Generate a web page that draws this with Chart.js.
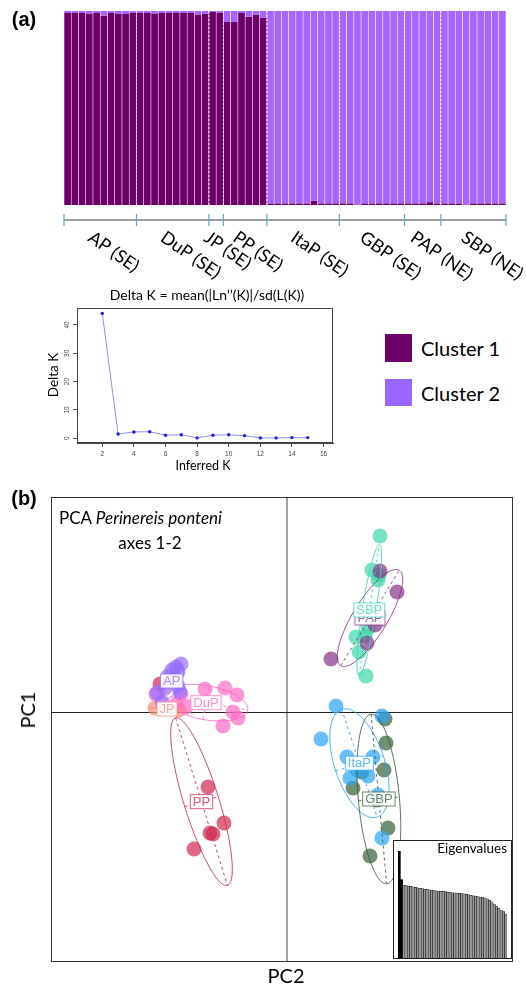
<!DOCTYPE html>
<html><head><meta charset="utf-8">
<script src="https://cdn.jsdelivr.net/npm/chart.js@4.4.1/dist/chart.umd.min.js"></script>
<style>
html,body{margin:0;padding:0;background:#fff;}
body{width:526px;height:987px;position:relative;overflow:hidden;font-family:Lato,sans-serif;}
canvas{position:absolute;}
.t{position:absolute;white-space:nowrap;color:#000;line-height:1;}
.sq{position:absolute;}
</style></head><body>
<canvas id="structure" width="526" height="285" style="left:0;top:0"></canvas>
<canvas id="deltak" width="345" height="190" style="left:0;top:283px"></canvas>
<canvas id="pca" width="526" height="507" style="left:0;top:480px"></canvas>
<canvas id="eig" width="119" height="119" style="left:393px;top:840px"></canvas>

<div class="t" style="left:24px;top:19px;font:bold 20px 'Liberation Sans';transform:translate(-50%,-50%)">(a)</div>
<div class="t" style="left:24px;top:498px;font:bold 20px 'Liberation Sans';transform:translate(-50%,-50%)">(b)</div>

<div class="sq" style="left:385px;top:334px;width:27px;height:28px;background:#6b0066"></div>
<div class="t" style="left:421px;top:348px;font-size:20px;transform:translateY(-50%)">Cluster 1</div>
<div class="sq" style="left:385px;top:379px;width:27px;height:27px;background:#9966ff"></div>
<div class="t" style="left:421px;top:393px;font-size:20px;transform:translateY(-50%)">Cluster 2</div>

<div class="t" style="left:207px;top:295px;font-size:14px;transform:translate(-50%,-50%)">Delta K = mean(|Ln’’(K)|/sd(L(K))</div>
<div class="t" style="left:54px;top:375px;font-size:13.5px;transform:translate(-50%,-50%) rotate(-90deg)">Delta K</div>
<div class="t" style="left:203px;top:466px;font-size:12.5px;transform:translate(-50%,-50%)">Inferred K</div>

<div class="t" style="left:59px;top:517px;font-size:17px;transform:translateY(-50%)">PCA <i>Perinereis ponteni</i></div>
<div class="t" style="left:150px;top:542px;font-size:17px;transform:translate(-50%,-50%)">axes 1-2</div>
<div class="t" style="left:27px;top:710px;font-size:20px;transform:translate(-50%,-50%) rotate(-90deg)">PC1</div>
<div class="t" style="left:286px;top:975px;font-size:20px;transform:translate(-50%,-50%)">PC2</div>

<script>
// ---------- (a) STRUCTURE data ----------
const populations = ['AP (SE)','DuP (SE)','JP (SE)','PP (SE)','ItaP (SE)','GBP (SE)','PAP (NE)','SBP (NE)'];
const popSizes = [10,10,2,6,10,9,5,9];
const cluster1 = [
  0.99,0.99,0.99,0.985,0.99,0.975,0.99,0.985,0.985,0.99,
  0.99,0.99,0.985,0.99,0.99,0.99,0.99,0.99,0.98,0.985,
  0.995,0.99,
  0.945,0.945,0.99,0.97,0.98,0.965,
  0.008,0.008,0.008,0.008,0.008,0.008,0.022,0.008,0.008,0.008,
  0.008,0.008,0.002,0.008,0.008,0.008,0.008,0.008,0.008,
  0.008,0.008,0.008,0.014,0.008,
  0.008,0.008,0.008,0.002,0.008,0.008,0.008,0.008,0.008
];
const cluster2 = [
  0.01,0.01,0.01,0.015,0.01,0.025,0.01,0.015,0.015,0.01,
  0.01,0.01,0.015,0.01,0.01,0.01,0.01,0.01,0.02,0.015,
  0.005,0.01,
  0.055,0.055,0.01,0.03,0.02,0.035,
  0.992,0.992,0.992,0.992,0.992,0.992,0.978,0.992,0.992,0.992,
  0.992,0.992,0.998,0.992,0.992,0.992,0.992,0.992,0.992,
  0.992,0.992,0.992,0.986,0.992,
  0.992,0.992,0.992,0.998,0.992,0.992,0.992,0.992,0.992
];

// ---------- Delta K data ----------
const deltaKx = [2,3,4,5,6,7,8,9,10,11,12,13,14,15];
const deltaK = [44.1,1.5,2.2,2.3,1.05,1.2,0.1,1.05,1.2,0.9,0.1,0.1,0.2,0.2];
const deltaKxTicks = [2,4,6,8,10,12,14,16];
const deltaKyTicks = [0,10,20,30,40];

// ---------- (b) PCA data (PC2 = horizontal, PC1 = vertical) ----------
const apPC2   = [-10.6,-11.1,-11.5,-11.9,-10.9,-13.0,-12.5,-10.7,-12.2,-10.9];
const apPC1   = [4.8,4.5,4.2,3.6,4.0,1.9,1.0,2.0,2.4,2.6];
const dupPC2  = [-8.2,-6.2,-5.0,-10.1,-10.6,-5.4,-4.9,-6.4,-11.1,-13.1];
const dupPC1  = [2.3,2.4,1.7,0.5,1.8,0.0,-0.6,-1.4,0.8,1.8];
const jpPC2   = [-13.2,-10.8];
const jpPC1   = [0.4,0.2];
const ppPC2   = [-12.7,-7.9,-6.3,-7.7,-7.4,-9.3];
const ppPC1   = [2.8,-7.5,-11.1,-12.1,-12.2,-13.7];
const itapPC2 = [4.9,3.4,9.5,6.0,8.6,7.0,8.1,9.1,9.5,6.3];
const itapPC1 = [0.6,-2.7,-0.4,-4.5,-4.5,-5.8,-6.4,-8.3,-12.6,-6.6];
const gbpPC2  = [9.8,9.9,9.7,6.6,7.5,10.1,8.3,9.0,11.8];
const gbpPC1  = [-0.7,-3.1,-5.8,-7.6,-6.0,-11.6,-14.4,-8.8,-20.3];
const papPC2  = [9.3,11.0,4.4,8.8,8.0];
const papPC1  = [14.1,12.0,5.3,8.7,6.9];
const sbpPC2  = [9.3,8.5,9.2,9.1,6.9,7.8,8.1,7.9,7.2];
const sbpPC1  = [17.6,14.2,13.7,13.2,7.5,7.6,8.4,3.6,6.0];
const pcaNames = ['AP','DuP','JP','PP','ItaP','GBP','PAP','SBP'];
const eigenvalues = [100,73.2,68.0,67.6,67.2,66.9,66.4,66.0,65.6,65.2,64.8,64.5,64.1,63.8,63.4,63.1,
  62.8,62.6,62.4,62.2,62.0,61.6,61.3,61.0,60.8,60.7,60.5,60.3,59.9,59.5,59.0,58.6,58.2,57.8,57.5,
  57.0,56.4,55.9,55.2,54.0,52.4,50.5,48.0,46.5,44.8,43.5,40.5];
const eigAxesShown = 2;

// ---------- styles ----------
const pcaColors = [[150,110,255],[255,105,200],[255,140,125],[210,40,80],[40,165,250],[55,95,55],[135,50,135],[60,215,170]];
const rgba = (c,a)=>`rgba(${c[0]},${c[1]},${c[2]},${a})`;

// ---------- STRUCTURE chart ----------
const structurePlugin = {
  id:'structurePlugin',
  afterDatasetsDraw(chart){
    const {ctx, chartArea:a, scales:{x}} = chart;
    const w = x.getPixelForValue(1) - x.getPixelForValue(0);
    const bnd = [x.getPixelForValue(0) - w/2];
    let k = 0;
    popSizes.forEach(s => { k += s; bnd.push(x.getPixelForValue(k-1) + w/2); });
    ctx.save();
    ctx.strokeStyle = 'rgba(255,255,255,0.95)'; ctx.lineWidth = 1; ctx.setLineDash([2,2]);
    for (let i=1;i<bnd.length-1;i++){ ctx.beginPath(); ctx.moveTo(bnd[i], a.top); ctx.lineTo(bnd[i], a.bottom); ctx.stroke(); }
    ctx.setLineDash([]);
    const ay = a.bottom + 15;
    ctx.strokeStyle = '#808080'; ctx.lineWidth = 1.5;
    ctx.beginPath(); ctx.moveTo(bnd[0], ay); ctx.lineTo(bnd[bnd.length-1], ay); ctx.stroke();
    ctx.strokeStyle = '#5aaed0'; ctx.lineWidth = 1.2;
    bnd.forEach(b => { ctx.beginPath(); ctx.moveTo(b, ay-6); ctx.lineTo(b, ay+6); ctx.stroke(); });
    ctx.fillStyle = '#000'; ctx.font = '18px Lato'; ctx.textBaseline = 'top'; ctx.textAlign = 'left';
    populations.forEach((p,i) => {
      const mid = (bnd[i]+bnd[i+1])/2;
      ctx.save(); ctx.translate(mid-5, ay+8); ctx.rotate(35*Math.PI/180); ctx.fillText(p,0,0); ctx.restore();
    });
    ctx.restore();
  }
};
new Chart(document.getElementById('structure'), {
  type:'bar',
  data:{
    labels: cluster1.map((_,i)=>String(i+1)),
    datasets:[
      {label:'Cluster 1', data:cluster1, backgroundColor:'#6d0068', borderColor:'rgba(255,255,255,0.45)', borderWidth:{left:0.6,right:0.6,top:0,bottom:0}, borderSkipped:false, barPercentage:1, categoryPercentage:1},
      {label:'Cluster 2', data:cluster2, backgroundColor:'#a864ff', borderColor:'rgba(255,255,255,0.45)', borderWidth:{left:0.6,right:0.6,top:0,bottom:0}, borderSkipped:false, barPercentage:1, categoryPercentage:1}
    ]
  },
  options:{
    responsive:false, animation:false,
    layout:{padding:{left:64, top:11, right:20, bottom:80}},
    plugins:{legend:{display:false}, tooltip:{enabled:false}},
    scales:{
      x:{stacked:true, display:false},
      y:{stacked:true, display:false, min:0, max:1}
    }
  },
  plugins:[structurePlugin]
});

// ---------- Delta K chart ----------
const deltaPlugin = {
  id:'deltaPlugin',
  afterDraw(chart){
    const {ctx, chartArea:a, scales:{y}} = chart;
    ctx.save();
    ctx.strokeStyle = '#444'; ctx.lineWidth = 1;
    ctx.strokeRect(a.left+0.5, a.top+0.5, a.width-1, a.height-1);
    ctx.fillStyle = '#444'; ctx.font = '6.5px "Liberation Sans"'; ctx.textAlign = 'center'; ctx.textBaseline = 'middle';
    deltaKyTicks.forEach(v => {
      ctx.save(); ctx.translate(a.left-10, y.getPixelForValue(v)); ctx.rotate(-Math.PI/2); ctx.fillText(String(v),0,0); ctx.restore();
    });
    ctx.restore();
  }
};
new Chart(document.getElementById('deltak'), {
  type:'line',
  data:{datasets:[{data: deltaKx.map((k,i)=>({x:k, y:deltaK[i]})), borderColor:'#8f8ff0', borderWidth:1, pointRadius:1.7, pointBackgroundColor:'#1c1cf0', pointBorderWidth:0, tension:0}]},
  options:{
    responsive:false, animation:false,
    layout:{padding:{left:0, top:25, right:12, bottom:0}},
    plugins:{legend:{display:false}, tooltip:{enabled:false}},
    scales:{
      x:{type:'linear', min:0.4, max:16.6,
         afterBuildTicks:s=>{s.ticks = deltaKxTicks.map(v=>({value:v}));},
         afterFit:s=>{s.height = 30;},
         grid:{drawOnChartArea:false, drawTicks:true, tickLength:4, color:'#555'},
         border:{display:true, color:'#444'},
         ticks:{font:{size:6.5, family:'Liberation Sans'}, color:'#444', padding:3, maxRotation:0, autoSkip:false}},
      y:{min:-1.7, max:46,
         afterBuildTicks:s=>{s.ticks = deltaKyTicks.map(v=>({value:v}));},
         afterFit:s=>{s.width = 77;},
         grid:{drawOnChartArea:false, drawTicks:true, tickLength:4, color:'#555'},
         border:{display:true, color:'#444'},
         ticks:{display:false}}
    }
  },
  plugins:[deltaPlugin]
});

// ---------- PCA chart ----------
const pcaXs = [apPC2,dupPC2,jpPC2,ppPC2,itapPC2,gbpPC2,papPC2,sbpPC2];
const pcaYs = [apPC1,dupPC1,jpPC1,ppPC1,itapPC1,gbpPC1,papPC1,sbpPC1];
function ellipseOf(xs, ys){
  const n = xs.length;
  const mx = xs.reduce((s,v)=>s+v,0)/n, my = ys.reduce((s,v)=>s+v,0)/n;
  let vx=0, vy=0, c=0;
  for (let i=0;i<n;i++){ vx += (xs[i]-mx)**2; vy += (ys[i]-my)**2; c += (xs[i]-mx)*(ys[i]-my); }
  vx/=n; vy/=n; c/=n;
  const tr = vx+vy, det = vx*vy-c*c;
  const disc = Math.sqrt(Math.max(0, tr*tr/4-det));
  const l1 = tr/2+disc, l2 = Math.max(0, tr/2-disc);
  let v1 = Math.abs(c) > 1e-12 ? [l1-vy, c] : (vx>=vy ? [1,0] : [0,1]);
  const nr = Math.hypot(v1[0], v1[1]); v1 = [v1[0]/nr, v1[1]/nr];
  const v2 = [-v1[1], v1[0]];
  return {mx, my, a:1.5*Math.sqrt(l1), b:1.5*Math.sqrt(l2), v1, v2};
}
const pcaPlugin = {
  id:'pcaPlugin',
  beforeDatasetsDraw(chart){
    const {ctx, chartArea:a, scales:{x,y}} = chart;
    ctx.save();
    const x0 = x.getPixelForValue(0), y0 = y.getPixelForValue(0);
    ctx.strokeStyle = '#8a8a8a'; ctx.lineWidth = 1.6;
    ctx.beginPath(); ctx.moveTo(x0, a.top); ctx.lineTo(x0, a.bottom); ctx.stroke();
    ctx.strokeStyle = '#222'; ctx.lineWidth = 1;
    ctx.beginPath(); ctx.moveTo(a.left, Math.round(y0)+0.5); ctx.lineTo(a.right, Math.round(y0)+0.5); ctx.stroke();
    ctx.restore();
  },
  afterDatasetsDraw(chart){
    const {ctx, scales:{x,y}} = chart;
    const P = (u,v)=>[x.getPixelForValue(u), y.getPixelForValue(v)];
    const ells = pcaXs.map((xs,i)=>ellipseOf(xs, pcaYs[i]));
    ctx.save();
    ells.forEach((e,i)=>{
      const col = pcaColors[i];
      ctx.strokeStyle = rgba(col,0.85); ctx.lineWidth = 1;
      ctx.setLineDash([]);
      ctx.beginPath();
      for (let s=0;s<=120;s++){
        const t = s/120*2*Math.PI;
        const u = e.mx + e.a*Math.cos(t)*e.v1[0] + e.b*Math.sin(t)*e.v2[0];
        const v = e.my + e.a*Math.cos(t)*e.v1[1] + e.b*Math.sin(t)*e.v2[1];
        const p = P(u,v);
        if (s===0) ctx.moveTo(p[0],p[1]); else ctx.lineTo(p[0],p[1]);
      }
      ctx.stroke();
      ctx.setLineDash([3,3]);
      [[e.v1,e.a],[e.v2,e.b]].forEach(([vv,r])=>{
        const p1 = P(e.mx-r*vv[0], e.my-r*vv[1]), p2 = P(e.mx+r*vv[0], e.my+r*vv[1]);
        ctx.beginPath(); ctx.moveTo(p1[0],p1[1]); ctx.lineTo(p2[0],p2[1]); ctx.stroke();
      });
    });
    ctx.setLineDash([]);
    ctx.font = '13px "Liberation Sans"'; ctx.textAlign = 'center'; ctx.textBaseline = 'middle';
    ells.forEach((e,i)=>{
      const col = pcaColors[i];
      const p = P(e.mx, e.my);
      const tw = ctx.measureText(pcaNames[i]).width;
      const bw = tw+5, bh = 14;
      ctx.fillStyle = 'rgba(255,255,255,0.92)';
      ctx.fillRect(p[0]-bw/2, p[1]-bh/2, bw, bh);
      ctx.strokeStyle = rgba(col,0.75); ctx.lineWidth = 1;
      ctx.strokeRect(p[0]-bw/2, p[1]-bh/2, bw, bh);
      ctx.fillStyle = rgba(col,0.75);
      ctx.fillText(pcaNames[i], p[0], p[1]+0.5);
    });
    ctx.restore();
  },
  afterDraw(chart){
    const {ctx, chartArea:a} = chart;
    ctx.save(); ctx.strokeStyle = '#333'; ctx.lineWidth = 1;
    ctx.strokeRect(a.left+0.5, a.top+0.5, a.width-1, a.height-1);
    ctx.restore();
  }
};
new Chart(document.getElementById('pca'), {
  type:'scatter',
  data:{datasets: pcaXs.map((xs,i)=>({
    label: pcaNames[i],
    data: xs.map((u,j)=>({x:u, y:pcaYs[i][j]})),
    backgroundColor: rgba(pcaColors[i],0.7), borderWidth:0, pointRadius:7.5
  }))},
  options:{
    responsive:false, animation:false,
    layout:{padding:{left:51, top:17, right:13, bottom:25}},
    plugins:{legend:{display:false}, tooltip:{enabled:false}},
    scales:{
      x:{type:'linear', display:false, min:-23.6, max:22.6},
      y:{type:'linear', display:false, min:-25, max:21.5}
    }
  },
  plugins:[pcaPlugin]
});

// ---------- Eigenvalues inset ----------
const eigPlugin = {
  id:'eigPlugin',
  beforeDraw(chart){
    const {ctx, width, height} = chart;
    ctx.save(); ctx.fillStyle = '#fff'; ctx.fillRect(0,0,width,height); ctx.restore();
  },
  afterDraw(chart){
    const {ctx, width, height, chartArea:a} = chart;
    ctx.save();
    ctx.strokeStyle = '#222'; ctx.lineWidth = 1;
    ctx.strokeRect(0.5,0.5,width-1,height-1);
    ctx.fillStyle = '#000'; ctx.font = '13.5px Lato'; ctx.textAlign = 'right'; ctx.textBaseline = 'middle';
    ctx.fillText('Eigenvalues', a.right, 8.5);
    ctx.restore();
  }
};
new Chart(document.getElementById('eig'), {
  type:'bar',
  data:{labels: eigenvalues.map((_,i)=>String(i+1)),
    datasets:[{data:eigenvalues,
      backgroundColor: eigenvalues.map((_,i)=> i<eigAxesShown ? '#000' : '#9a9a9a'),
      borderColor:'#000', borderWidth: eigenvalues.map((_,i)=> i<eigAxesShown ? 0 : 0.5),
      borderSkipped:'bottom', barPercentage:1, categoryPercentage:1}]},
  options:{
    responsive:false, animation:false,
    layout:{padding:{left:5, top:11, right:5, bottom:1}},
    plugins:{legend:{display:false}, tooltip:{enabled:false}},
    scales:{x:{display:false}, y:{display:false, min:0, max:100}}
  },
  plugins:[eigPlugin]
});
</script>
</body></html>
